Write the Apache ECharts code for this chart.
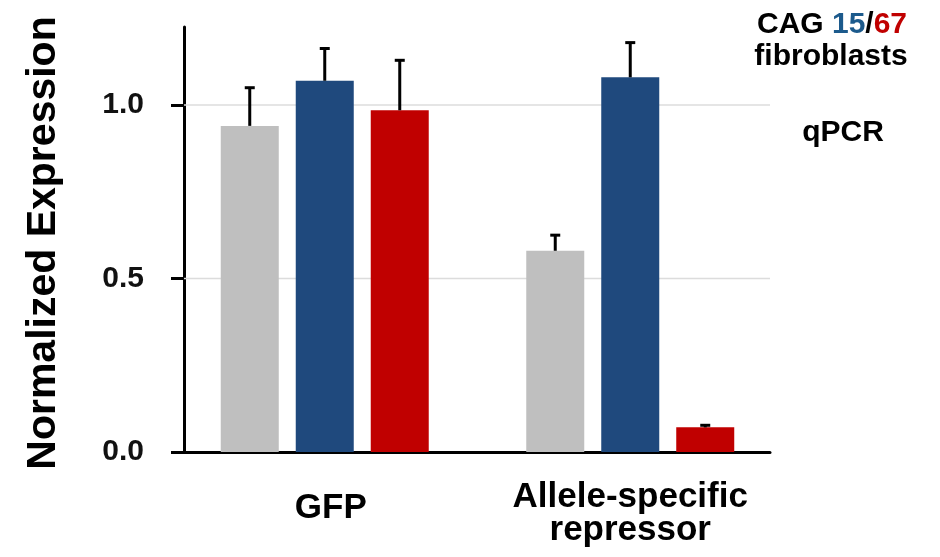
<!DOCTYPE html>
<html>
<head>
<meta charset="utf-8">
<script src="https://cdn.jsdelivr.net/npm/echarts@6/dist/echarts.min.js"></script>
<style>
html,body{margin:0;padding:0;background:#fff;}
#chart{width:940px;height:557px;}
</style>
</head>
<body>
<div id="chart"></div>
<script>
const categories = ['GFP', 'Allele-specific\nrepressor'];
const grayValues = [0.94, 0.58];
const blueValues = [1.07, 1.08];
const redValues = [0.985, 0.071];
const grayErrors = [0.11, 0.045];
const blueErrors = [0.093, 0.10];
const redErrors = [0.144, 0.006];
const yTicks = [0, 0.5, 1.0];
const gridValues = [0.5, 1.0];
const yMax = 1.225;

const FONT = 'Liberation Sans, Arial, Helvetica, sans-serif';
const BAR_W = 58, BAR_STEP = 75;

const seriesValues = [grayValues, blueValues, redValues];
const seriesErrors = [grayErrors, blueErrors, redErrors];
const errData = [];
seriesValues.forEach((vals, s) => {
  vals.forEach((v, c) => errData.push([c, s, v, seriesErrors[s][c]]));
});

const chart = echarts.init(document.getElementById('chart'), null, {renderer: 'canvas'});
chart.setOption({
  animation: false,
  backgroundColor: '#fff',
  grid: [
    {left: 184, width: 586, top: 27, height: 425},
    {left: 172, width: 611, top: 27, height: 425}
  ],
  xAxis: [
    {gridIndex: 0, type: 'category', data: categories,
     axisLine: {show: true, lineStyle: {color: '#000', width: 3}},
     axisTick: {show: false}, axisLabel: {show: false}, splitLine: {show: false}},
    {gridIndex: 1, type: 'category', data: categories,
     axisLine: {show: false}, axisTick: {show: false}, splitLine: {show: false},
     axisLabel: {
       interval: 0, margin: 62, verticalAlign: 'middle', color: '#000',
       formatter: function (v) {
         if (v.indexOf('\n') < 0) return '{g|' + v + '}';
         return v.split('\n').map(s => '{a|' + s + '}').join('\n');
       },
       rich: {
         g: {fontFamily: FONT, fontSize: 35, fontWeight: 'bold', lineHeight: 32, color: '#000', padding: [0, 0, 12, 12]},
         a: {fontFamily: FONT, fontSize: 35, fontWeight: 'bold', lineHeight: 33, color: '#000'}
       }
     }}
  ],
  yAxis: [
    {gridIndex: 0, type: 'value', min: 0, max: yMax, interval: 0.5,
     axisLine: {show: true, lineStyle: {color: '#000', width: 3}},
     axisTick: {show: true, length: 13, customValues: yTicks, lineStyle: {color: '#000', width: 3}},
     axisLabel: {customValues: yTicks, margin: 40, fontFamily: FONT, fontSize: 30, fontWeight: 'bold', color: '#111',
                 formatter: v => v.toFixed(1)},
     splitLine: {show: false}},
    {gridIndex: 1, type: 'value', min: 0, max: yMax, interval: 0.5, show: false, splitLine: {show: false}}
  ],
  graphic: [
    {type: 'text', x: 44, y: 243, rotation: Math.PI / 2,
     style: {text: 'Normalized Expression', fontFamily: FONT, fontSize: 41, fontWeight: 'bold', fill: '#000',
             align: 'center', verticalAlign: 'middle'}},
    {type: 'text', x: 832, y: 25,
     style: {text: '{k|CAG }{b|15}{k|/}{r|67}', align: 'center', verticalAlign: 'middle',
             rich: {
               k: {fontFamily: FONT, fontSize: 30, fontWeight: 'bold', fill: '#000'},
               b: {fontFamily: FONT, fontSize: 30, fontWeight: 'bold', fill: '#1c5a8c'},
               r: {fontFamily: FONT, fontSize: 30, fontWeight: 'bold', fill: '#c00000'}
             }}},
    {type: 'text', x: 831, y: 57,
     style: {text: 'fibroblasts', fontFamily: FONT, fontSize: 30, fontWeight: 'bold', fill: '#000',
             align: 'center', verticalAlign: 'middle'}},
    {type: 'text', x: 843, y: 133,
     style: {text: 'qPCR', fontFamily: FONT, fontSize: 30, fontWeight: 'bold', fill: '#000',
             align: 'center', verticalAlign: 'middle'}}
  ],
  series: [
    {type: 'custom', xAxisIndex: 0, yAxisIndex: 0, z: 1, silent: true,
     data: gridValues.map(v => [0, v]), encode: {x: 0, y: 1},
     renderItem: function (params, api) {
       const y = api.coord([0, api.value(1)])[1];
       const cs = params.coordSys;
       return {type: 'line', shape: {x1: cs.x, y1: y, x2: cs.x + cs.width, y2: y},
               style: {stroke: '#dcdcdc', lineWidth: 1.5}};
     }},
    {type: 'bar', name: 'gray', xAxisIndex: 1, yAxisIndex: 1, data: grayValues, z: 2,
     barWidth: BAR_W, barGap: '29.3%', itemStyle: {color: '#bfbfbf'}},
    {type: 'bar', name: 'blue', xAxisIndex: 1, yAxisIndex: 1, data: blueValues, z: 2,
     barWidth: BAR_W, barGap: '29.3%', itemStyle: {color: '#1f497d'}},
    {type: 'bar', name: 'red', xAxisIndex: 1, yAxisIndex: 1, data: redValues, z: 2,
     barWidth: BAR_W, barGap: '29.3%', itemStyle: {color: '#c00000'}},
    {type: 'custom', xAxisIndex: 1, yAxisIndex: 1, z: 3, silent: true,
     data: errData, encode: {x: 0, y: 2},
     renderItem: function (params, api) {
       const c = api.value(0), s = api.value(1), v = api.value(2), e = api.value(3);
       const x = api.coord([c, 0])[0] + (s - 1) * BAR_STEP;
       const yb = api.coord([c, v])[1];
       const yt = api.coord([c, v + e])[1];
       return {type: 'group', children: [
         {type: 'line', shape: {x1: x, y1: yb, x2: x, y2: yt}, style: {stroke: '#000', lineWidth: 3}},
         {type: 'line', shape: {x1: x - 5, y1: yt, x2: x + 5, y2: yt}, style: {stroke: '#000', lineWidth: 3}}
       ]};
     }}
  ]
});
</script>
</body>
</html>
